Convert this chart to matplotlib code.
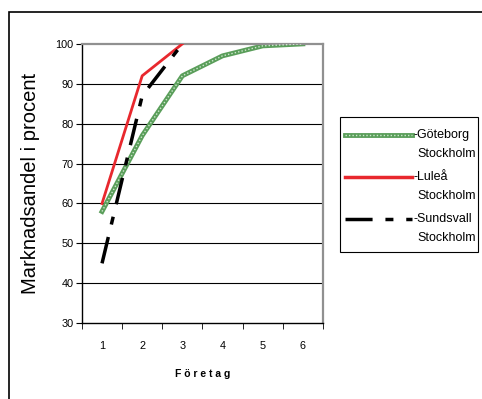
import matplotlib
matplotlib.use("Agg")
import matplotlib.pyplot as plt
from matplotlib.lines import Line2D
from matplotlib.patches import Rectangle

plt.rcParams["font.family"] = ["Liberation Sans", "DejaVu Sans"]

# data
foretag = [1, 2, 3, 4, 5, 6]
goteborg = [58, 77, 92, 97, 99.5, 100]
lulea = [60, 92, 100]
sundsvall = [45, 87, 100]
labels = ["-Göteborg", "-Luleå", "-Sundsvall"]
sub_label = "Stockholm"

W, H = 482, 399
green = "#5a9e5a"
red = "#e8282e"
dash = (0, (7.8, 3.7, 2.3, 3.7))

fig = plt.figure(figsize=(W / 100, H / 100), dpi=100)
ax = fig.add_axes([0.170, 0.190, 0.500, 0.700])


def fx(px):
    return px / W


def fy(py):
    return 1 - py / H


# outer frame (clipped on right/bottom like the source)
fig.add_artist(Rectangle((fx(8.5), -0.1), 1.2, fy(12.5) + 0.1,
                         transform=fig.transFigure, fill=False,
                         edgecolor="black", linewidth=1.2))

for yv in range(40, 100, 10):
    ax.axhline(yv, color="black", linewidth=0.8, zorder=1)

ax.plot(foretag, goteborg, color=green, linewidth=3.5, zorder=2)
ax.plot(foretag, goteborg, color="#cfe8cf", linewidth=1.0,
        linestyle=(0, (1, 1.5)), zorder=3)
ax.plot(foretag[:len(lulea)], lulea, color=red, linewidth=2.0, zorder=4)
ax.plot(foretag[:len(sundsvall)], sundsvall, color="black", linewidth=2.5,
        linestyle=dash, zorder=5)

ax.set_xlim(0.5, 6.5)
ax.set_ylim(30, 100)
ax.set_yticks(range(30, 101, 10))
ax.set_xticks(foretag)
ax.set_xticks([x + 0.5 for x in range(0, 7)], minor=True)
ax.tick_params(axis="x", which="major", length=0, labelsize=7.8, pad=13)
ax.tick_params(axis="x", which="minor", length=4, direction="out")
ax.tick_params(axis="y", length=4, direction="out", labelsize=7.8, pad=2)

ax.spines["top"].set_color("#909090")
ax.spines["top"].set_linewidth(1.6)
ax.spines["right"].set_color("#909090")
ax.spines["right"].set_linewidth(1.6)
ax.spines["left"].set_linewidth(1.0)
ax.spines["bottom"].set_linewidth(1.0)

ax.set_ylabel("Marknadsandel i procent", fontsize=14.5, labelpad=11)
ax.set_xlabel("F ö r e t a g", fontsize=7.5, fontweight="bold", labelpad=13)

# legend box drawn by hand so the handle sits next to the first text line
fig.add_artist(Rectangle((fx(340), fy(252)), fx(478) - fx(340), fy(117) - fy(252),
                         transform=fig.transFigure, fill=False,
                         edgecolor="black", linewidth=0.8))
styles = [
    [dict(color=green, linewidth=3.5),
     dict(color="#cfe8cf", linewidth=1.0, linestyle=(0, (1, 1.5)))],
    [dict(color=red, linewidth=2.5)],
    [dict(color="black", linewidth=2.5, linestyle=dash)],
]
rows = [135, 177, 219]
for row, lab, sty in zip(rows, labels, styles):
    for kw in sty:
        fig.add_artist(Line2D([fx(345), fx(412)], [fy(row), fy(row)],
                              transform=fig.transFigure, **kw))
    fig.text(fx(413), fy(row), lab, fontsize=9, va="center", ha="left")
    fig.text(fx(417), fy(row + 19), sub_label, fontsize=9, va="center", ha="left")

fig.savefig("out.png", dpi=100)
